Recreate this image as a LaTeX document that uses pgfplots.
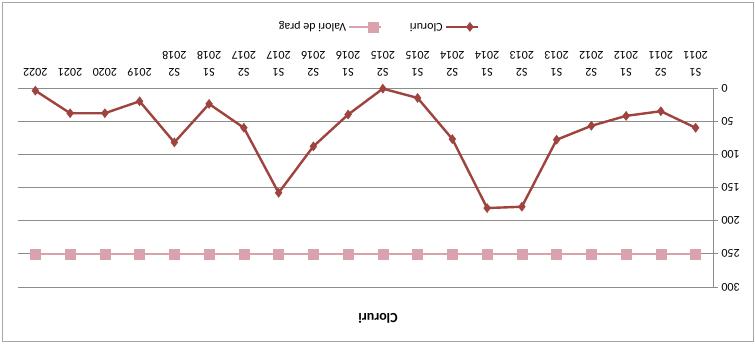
\documentclass[border=0pt]{standalone}
\usepackage{graphicx}
\usepackage{fontspec}
\setmainfont{Carlito}
\usepackage{pgfplots}
\pgfplotsset{compat=1.18}
\definecolor{clor}{HTML}{9E433E}
\definecolor{prag}{HTML}{D9A2AC}
\definecolor{gridc}{HTML}{8C8C8C}
\begin{document}
\rotatebox{180}{%
\begin{tikzpicture}[x=1pt,y=1pt]
\useasboundingbox (0,0) rectangle (755,349);
\draw[gray!70, line width=0.8pt] (2,2) rectangle (753,341);
\node[font=\fontsize{14}{16}\selectfont\bfseries] at (377,318) {Cloruri};
\begin{axis}[
  at={(42pt,88pt)}, anchor=south west,
  scale only axis, width=695pt, height=199pt,
  xmin=-0.5, xmax=19.5, ymin=0, ymax=300,
  ytick={0,50,...,300},
  xtick={0,...,19},
  xticklabels={{S1\\2011},{S2\\2011},{S1\\2012},{S2\\2012},{S1\\2013},{S2\\2013},{S1\\2014},{S2\\2014},{S1\\2015},{S2\\2015},{S1\\2016},{S2\\2016},{S1\\2017},{S2\\2017},{S1\\2018},{S2\\2018},2019,2020,2021,2022},
  xticklabel style={font=\fontsize{12}{17}\selectfont, align=center, anchor=north, yshift=-3pt},
  yticklabel style={font=\fontsize{12}{13}\selectfont},
  /pgf/number format/assume math mode=true,
  axis x line*=bottom, axis y line*=left,
  axis line style={-, gridc, line width=0.8pt},
  ymajorgrids, grid style={gridc, line width=0.8pt},
  major x tick style={draw=none},
  major y tick style={gridc, line width=0.8pt},
  tick align=outside, major tick length=5pt,
  legend columns=2,
  legend style={at={(0.482,-0.307)}, anchor=center, draw=none, fill=none,
    font=\fontsize{12}{13}\selectfont, /tikz/every even column/.append style={column sep=25pt}},
  legend image code/.code={\draw[#1] (0pt,0pt) -- (16pt,0pt) plot coordinates {(8pt,0pt)} -- (32pt,0pt);},
]
\addplot[color=clor, line width=2.4pt, mark=diamond*, mark size=4.5pt, mark options={line width=0.5pt, fill=clor}]
  coordinates {(0,60)(1,35)(2,42)(3,57)(4,78)(5,179)(6,181)(7,77)(8,15)(9,1)(10,40)(11,88)(12,158)(13,60)(14,24)(15,82)(16,20)(17,38)(18,38)(19,4)};
\addlegendentry{Cloruri}
\addplot[color=prag, line width=2.6pt, mark=square*, mark size=5pt, mark options={line width=0.5pt, fill=prag}]
  coordinates {(0,250)(1,250)(2,250)(3,250)(4,250)(5,250)(6,250)(7,250)(8,250)(9,250)(10,250)(11,250)(12,250)(13,250)(14,250)(15,250)(16,250)(17,250)(18,250)(19,250)};
\addlegendentry{Valori de prag}
\end{axis}
\end{tikzpicture}}
\end{document}
